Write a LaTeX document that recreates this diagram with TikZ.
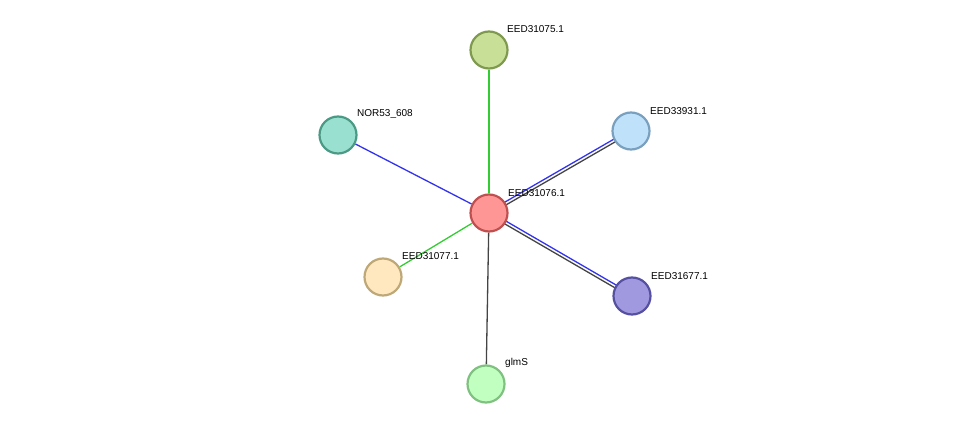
\documentclass[tikz,border=0pt]{standalone}
\usepackage{fontspec}
\setmainfont{Liberation Sans}
\usetikzlibrary{calc,backgrounds}
\definecolor{eblue}{HTML}{3333EE}
\definecolor{egreen}{HTML}{33CC33}
\definecolor{egray}{HTML}{444444}
\tikzset{
 prot/.style={circle,minimum size=37pt,inner sep=0pt,line width=2.2pt},
 lab/.style={anchor=south west,font=\fontsize{10pt}{12pt}\selectfont,inner sep=0pt},
 edge/.style={line width=1.3pt}
}
\begin{document}
\begin{tikzpicture}[x=1pt,y=-1pt]
\useasboundingbox (0,0) rectangle (976,430);
\node[prot,fill={rgb,255:red,255;green,150;blue,150},draw={rgb,255:red,192;green,80;blue,80}] (c) at (489,213) {};
\node[prot,fill={rgb,255:red,200;green,223;blue,152},draw={rgb,255:red,127;green,154;blue,79}] (a) at (489,50) {};
\node[prot,fill={rgb,255:red,153;green,224;blue,208},draw={rgb,255:red,75;green,154;blue,133}] (n) at (338,135) {};
\node[prot,fill={rgb,255:red,191;green,226;blue,250},draw={rgb,255:red,122;green,160;blue,192}] (b) at (631,131) {};
\node[prot,fill={rgb,255:red,255;green,232;blue,192},draw={rgb,255:red,191;green,168;blue,119}] (d) at (383,277) {};
\node[prot,fill={rgb,255:red,160;green,153;blue,224},draw={rgb,255:red,85;green,80;blue,160}] (e) at (632,296) {};
\node[prot,fill={rgb,255:red,192;green,255;blue,192},draw={rgb,255:red,128;green,192;blue,128}] (g) at (486,384) {};
\node[lab] (lc) at (508,197) {EED31076.1};
\node[lab] (la) at (507,33) {EED31075.1};
\node[lab] (ln) at (357,119) {NOR53\_608};
\node[lab] (lb) at (650,115) {EED33931.1};
\node[lab] (ld) at (402,260) {EED31077.1};
\node[lab] (le) at (651,280) {EED31677.1};
\node[lab] (lg) at (505,368) {glmS};
\begin{scope}[on background layer]
\draw[edge,egreen] (c) -- (a);
\draw[edge,eblue] (c) -- (n);
\draw[edge,egreen] (c) -- (d);
\draw[edge,egray] (c) -- (g);
\draw[edge,eblue] ($(c.center)!1.5pt!90:(b.center)$) -- ($(b.center)!1.5pt!-90:(c.center)$);
\draw[edge,egray] ($(c.center)!1.5pt!-90:(b.center)$) -- ($(b.center)!1.5pt!90:(c.center)$);
\draw[edge,eblue] ($(c.center)!1.5pt!90:(e.center)$) -- ($(e.center)!1.5pt!-90:(c.center)$);
\draw[edge,egray] ($(c.center)!1.5pt!-90:(e.center)$) -- ($(e.center)!1.5pt!90:(c.center)$);
\end{scope}
\end{tikzpicture}
\end{document}
